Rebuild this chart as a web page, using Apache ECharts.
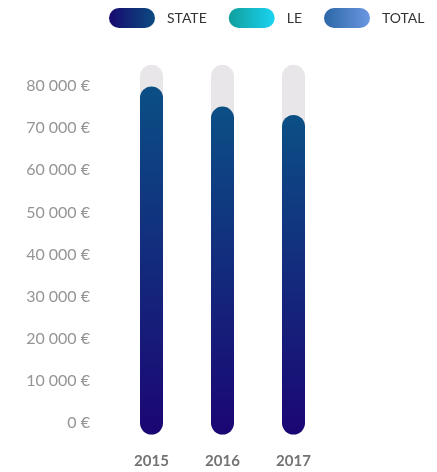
<!DOCTYPE html>
<html>
<head>
<meta charset="utf-8">
<script src="https://cdn.jsdelivr.net/npm/echarts@6/dist/echarts.min.js"></script>
<style>
  html, body { margin: 0; padding: 0; background: #ffffff; }
  #chart { width: 437px; height: 472px; }
</style>
</head>
<body>
<div id="chart"></div>
<script>
// Yearly amounts (EUR)
const years = ['2015', '2016', '2017'];
const stateValues = [77150, 72400, 70400];
const leValues = [];
const totalValues = [];
// Height of the grey track behind each bar (EUR)
const trackValues = [82300, 82300, 82300];
const yTicks = { min: 0, max: 80000, interval: 10000 };

const FONT = 'Lato, "Open Sans", sans-serif';
const BAR_W = 23;
const PILL_ICON = 'path://M10,0 H36 A10,10 0 0 1 36,20 H10 A10,10 0 0 1 10,0 Z';

const stateGradient = new echarts.graphic.LinearGradient(0, 1, 0, 0, [
  { offset: 0, color: '#1b0674' },
  { offset: 1, color: '#0b4f85' }
]);
const stateLegendGradient = new echarts.graphic.LinearGradient(0, 0, 1, 0, [
  { offset: 0, color: '#170a70' },
  { offset: 1, color: '#0c4b80' }
]);
const leGradient = new echarts.graphic.LinearGradient(0, 0, 1, 0, [
  { offset: 0, color: '#0f9f9c' },
  { offset: 1, color: '#1bd3f2' }
]);
const totalGradient = new echarts.graphic.LinearGradient(0, 0, 1, 0, [
  { offset: 0, color: '#2c67a6' },
  { offset: 1, color: '#6b97e2' }
]);

// Rounded pill from 0 up to the value; caps reach half a bar width beyond both ends
function pill(fill) {
  return function (params, api) {
    const x = api.value(0);
    const top = api.coord([x, api.value(1)]);
    const base = api.coord([x, 0]);
    const r = BAR_W / 2;
    return {
      type: 'rect',
      shape: {
        x: top[0] - r,
        y: top[1] - r,
        width: BAR_W,
        height: base[1] - top[1] + BAR_W,
        r: r
      },
      style: { fill: fill }
    };
  };
}

const chart = echarts.init(document.getElementById('chart'), null, { renderer: 'canvas' });
chart.setOption({
  animation: false,
  legend: {
    left: 109,
    top: 8,
    padding: 0,
    width: 330,
    itemWidth: 46,
    itemHeight: 20,
    itemGap: 22,
    icon: PILL_ICON,
    textStyle: { fontFamily: FONT, fontSize: 14, color: '#333', padding: [0, 0, 0, 7] },
    data: [
      { name: 'STATE', itemStyle: { color: stateLegendGradient } },
      { name: 'LE', itemStyle: { color: leGradient } },
      { name: 'TOTAL', itemStyle: { color: totalGradient } }
    ]
  },
  grid: { left: 116, width: 213, top: 86, bottom: 49, containLabel: false },
  xAxis: {
    type: 'category',
    data: years,
    axisLine: { show: false },
    axisTick: { show: false },
    axisLabel: { margin: 31, fontFamily: FONT, fontSize: 15, fontWeight: 'bold', color: '#737373' }
  },
  yAxis: {
    type: 'value',
    min: yTicks.min,
    max: yTicks.max,
    interval: yTicks.interval,
    splitLine: { show: false },
    axisLine: { show: false },
    axisTick: { show: false },
    axisLabel: {
      margin: 26,
      fontFamily: FONT,
      fontSize: 16,
      fontWeight: 'normal',
      color: '#959595',
      formatter: v => (v === 0 ? '0' : String(v).replace(/\B(?=(\d{3})+(?!\d))/g, ' ')) + ' €'
    }
  },
  series: [
    {
      name: 'track',
      type: 'custom',
      clip: false,
      silent: true,
      renderItem: pill('#e8e6e8'),
      data: trackValues.map((v, i) => [i, v]),
      z: 1
    },
    {
      name: 'STATE',
      type: 'custom',
      clip: false,
      itemStyle: { color: stateLegendGradient },
      renderItem: pill(stateGradient),
      data: stateValues.map((v, i) => [i, v]),
      z: 2
    },
    {
      name: 'LE',
      type: 'custom',
      itemStyle: { color: leGradient },
      renderItem: pill(leGradient),
      data: leValues.map((v, i) => [i, v])
    },
    {
      name: 'TOTAL',
      type: 'custom',
      itemStyle: { color: totalGradient },
      renderItem: pill(totalGradient),
      data: totalValues.map((v, i) => [i, v])
    }
  ]
});
</script>
</body>
</html>
